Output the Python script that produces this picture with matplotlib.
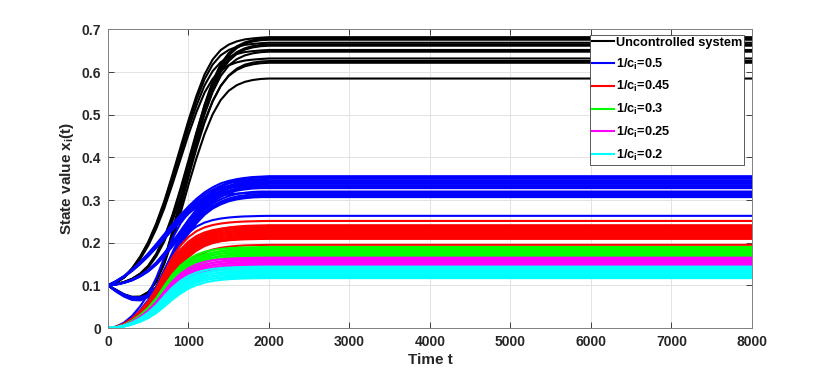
import matplotlib as mpl
mpl.use('Agg')
import matplotlib.pyplot as plt

# time samples (flat after ~2000)
T = [0, 100, 200, 300, 400, 500, 600, 700, 800, 900, 1000, 1100, 1200, 1300, 1400,
     1500, 1600, 1700, 1800, 1900, 2000, 2500, 3000, 8000]

# progress of each family of curves (0 = start value, 1 = final value)
black_early = [0, .012, .034, .069, .116, .175, .25, .34, .445, .555, .665, .765, .85, .91,
               .948, .970, .983, .991, .995, .998, 1, 1, 1, 1]
black_mid = [0, .005, .014, .027, .048, .080, .129, .196, .286, .393, .509, .625, .732, .821,
             .889, .936, .966, .984, .993, .998, 1, 1, 1, 1]
black_dip = [0, -.021, -.043, -.055, -.054, -.032, .018, .104, .218, .348, .486, .616, .732,
             .827, .896, .941, .968, .984, .993, .998, 1, 1, 1, 1]
blue_early = [0, .039, .086, .145, .215, .293, .379, .469, .559, .645, .723, .793, .852, .898,
              .934, .957, .973, .984, .992, .996, 1, 1, 1, 1]
blue_mid = [0, .009, .026, .052, .091, .143, .213, .3, .4, .504, .609, .704, .787, .857, .909,
            .948, .974, .987, .996, 1, 1, 1, 1, 1]
blue_dip = [0, -.057, -.104, -.135, -.139, -.109, -.022, .130, .304, .457, .587, .704, .8,
            .870, .917, .952, .974, .987, .996, 1, 1, 1, 1, 1]
rise_fast = [0, .01, .04, .09, .16, .25, .37, .52, .66, .77, .85, .905, .94, .962, .976, .985,
             .991, .995, .997, .999, 1, 1, 1, 1]
rise_slow = [0, .007, .03, .07, .125, .2, .3, .43, .57, .69, .79, .86, .91, .943, .964, .978,
             .987, .993, .996, .998, 1, 1, 1, 1]

# final (steady state) values
black_early_final = [0.682, 0.669, 0.652, 0.632]
black_mid_final = [0.676, 0.662, 0.626]
black_dip_final = [0.679, 0.665, 0.648, 0.622, 0.585]
blue_early_final = [0.356, 0.350, 0.344, 0.338, 0.332]
blue_mid_final = [0.353, 0.346, 0.340, 0.334, 0.328]
blue_dip_final = [0.354, 0.342, 0.330, 0.320, 0.314, 0.310, 0.307]
blue_zero_final = [0.263, 0.318]
red_final = [0.251, 0.241, 0.2385, 0.236, 0.2335, 0.231, 0.2285, 0.226, 0.2235, 0.221,
             0.2185, 0.216, 0.2135, 0.211, 0.209, 0.195]
green_final = [0.190, 0.187, 0.184, 0.181, 0.178, 0.175, 0.172, 0.169, 0.166]
magenta_final = [0.165, 0.162, 0.159, 0.156, 0.153, 0.150, 0.147, 0.145]
cyan_final = [0.144, 0.141, 0.138, 0.135, 0.132, 0.129, 0.126, 0.123, 0.120, 0.117]

labels = ['Uncontrolled system', r'1/c$_\mathbf{i}$=0.5', r'1/c$_\mathbf{i}$=0.45',
          r'1/c$_\mathbf{i}$=0.3', r'1/c$_\mathbf{i}$=0.25', r'1/c$_\mathbf{i}$=0.2']

plt.rcParams['font.family'] = ['Liberation Sans', 'DejaVu Sans']
plt.rcParams['font.weight'] = 'bold'
plt.rcParams['mathtext.fontset'] = 'custom'
plt.rcParams['mathtext.rm'] = 'Liberation Sans:bold'
plt.rcParams['mathtext.bf'] = 'Liberation Sans:bold'
plt.rcParams['mathtext.it'] = 'Liberation Sans:bold'

fig = plt.figure(figsize=(8.3, 3.71), dpi=100)
ax = fig.add_axes([0.1301, 0.1159, 0.7759, 0.8046])

lw = 1.5


def curves(start, finals, shapes, color):
    h = None
    for i, f in enumerate(finals):
        s = shapes[i % len(shapes)]
        h, = ax.plot(T, [start + (f - start) * p for p in s], color=color, lw=lw)
    return h


handles = []
h = curves(0.1, black_early_final, [black_early], 'k')
curves(0.1, black_mid_final, [black_mid], 'k')
curves(0.1, black_dip_final, [black_dip], 'k')
handles.append(h)
h = curves(0.1, blue_early_final, [blue_early], '#0000ff')
curves(0.1, blue_mid_final, [blue_mid], '#0000ff')
curves(0.1, blue_dip_final, [blue_dip], '#0000ff')
curves(0.0, blue_zero_final, [rise_fast], '#0000ff')
handles.append(h)
handles.append(curves(0.0, red_final, [rise_fast, rise_slow], '#ff0000'))
handles.append(curves(0.0, green_final, [rise_fast, rise_slow], '#00ff00'))
handles.append(curves(0.0, magenta_final, [rise_fast, rise_slow], '#ff00ff'))
handles.append(curves(0.0, cyan_final, [rise_fast, rise_slow], '#00ffff'))

ax.set_xlim(0, 8000)
ax.set_ylim(0, 0.7)
ax.set_xticks(range(0, 8001, 1000))
ax.set_yticks([0, 0.1, 0.2, 0.3, 0.4, 0.5, 0.6, 0.7])
ax.set_yticklabels(['0', '0.1', '0.2', '0.3', '0.4', '0.5', '0.6', '0.7'])
ax.grid(True, color='#e3e3e3', lw=0.7)
ax.set_axisbelow(True)
ax.tick_params(direction='in', length=4, width=0.6, colors='#262626', labelsize=10,
               top=True, right=True, pad=5)
for sp in ax.spines.values():
    sp.set_color('#808080')
    sp.set_linewidth(0.7)

ax.set_xlabel('Time t', fontsize=11, fontweight='bold', color='#262626', labelpad=3)
ax.set_ylabel(r'State value x$_\mathbf{i}$(t)', fontsize=11, fontweight='bold', color='#262626')

leg = ax.legend(handles, labels, loc='upper right', bbox_to_anchor=(0.9876, 0.9816),
                borderaxespad=0, fancybox=False, framealpha=1, edgecolor='#404040',
                prop={'size': 9.2, 'weight': 'bold'}, handlelength=1.75,
                handletextpad=0.15, borderpad=0.15, labelspacing=0.6)
leg.get_frame().set_linewidth(0.6)

fig.savefig('out.png', dpi=100)
